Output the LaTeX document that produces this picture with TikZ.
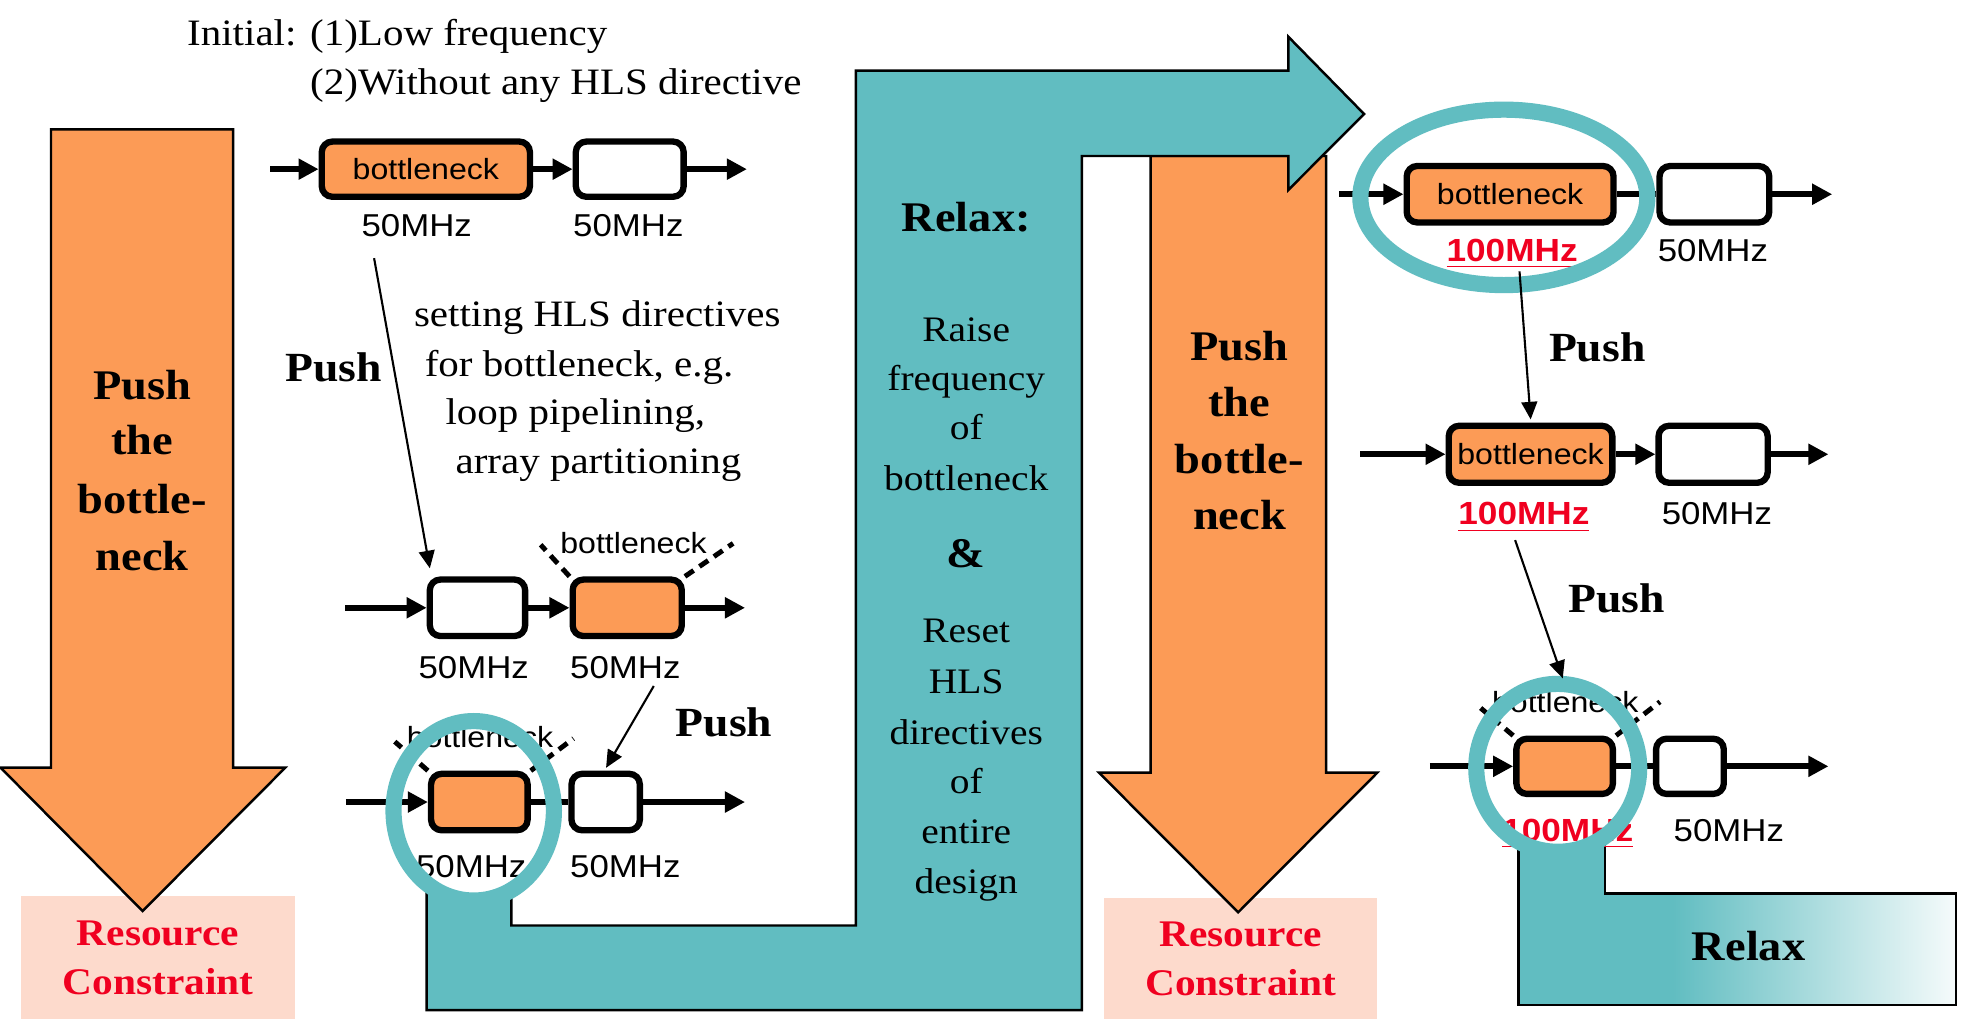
\documentclass[tikz,border=0pt]{standalone}
\usepackage{fontspec}
\setmainfont{Liberation Serif}[FakeStretch=1.1]
\newfontfamily\sansf{Liberation Sans}[FakeStretch=1.1]
\usetikzlibrary{arrows.meta}
\definecolor{tealc}{RGB}{97,189,193}
\definecolor{orangec}{RGB}{252,155,86}
\definecolor{pinkc}{RGB}{253,218,204}
\definecolor{redc}{RGB}{240,0,32}
\newcommand\pxu{0.35663pt}
\begin{document}
\begin{tikzpicture}[x=0.012532cm, y=-0.012532cm,
  bigshape/.style={draw=black, line width=0.7pt, line join=miter},
  stagebox/.style 2 args={draw=black, line width=1.8pt, rounded corners=3pt, inner sep=0pt,
     minimum width=#1*\pxu, minimum height=#2*\pxu},
  resbox/.style 2 args={fill=pinkc, minimum width=#1*\pxu, minimum height=#2*\pxu, inner sep=0pt,
     align=center, text=redc, font=\bfseries\fontsize{10.7}{13.9}\selectfont},
  flow/.style={line width=1.7pt, -{Triangle[length=5.7pt,width=5.7pt]}},
  flowline/.style={line width=1.7pt},
  push/.style={line width=0.6pt, -{Triangle[length=5pt,width=4.5pt]}},
  dashline/.style={line width=1.4pt, dash pattern=on 3pt off 2pt},
  ring/.style={draw=tealc, line width=4.6pt},
  mhz/.style={font=\sansf\fontsize{9}{10}\selectfont, inner sep=0pt, text depth=0pt},
  bn/.style={font=\sansf\fontsize{8.3}{10}\selectfont, inner sep=0pt, text depth=0pt},
  redmhz/.style={font=\sansf\bfseries\fontsize{9.1}{10}\selectfont, text=redc, inner sep=0pt, text depth=0pt},
  txt/.style={font=\fontsize{10.6}{12}\selectfont, anchor=base west, inner sep=0pt},
  tealtxt/.style={font=\fontsize{10.2}{12}\selectfont, anchor=base, inner sep=0pt},
  bigbold/.style={font=\bfseries\fontsize{12}{14}\selectfont, anchor=base, inner sep=0pt},
  pushlbl/.style={font=\bfseries\fontsize{11.8}{14}\selectfont, anchor=base, inner sep=0pt}
]
\fill[white] (0,0) rectangle (1568,823.5);
\useasboundingbox (0,0) rectangle (1568,823.5);

% ---------- resource boxes and orange arrows ----------
\node[resbox={219}{98.5}] (rc1) at (126.1,764) {Resource\\Constraint};
\node[resbox={218}{96.3}] (rc2) at (990,765) {Resource\\Constraint};

\path[bigshape, fill=orangec] (40.7,103.2) -- (40.7,612.6) -- (0.5,612.6) -- (113.8,727)
  -- (227.6,612.6) -- (186,612.6) -- (186,103.2) -- cycle;
\path[bigshape, fill=orangec] (918.2,124.5) -- (918.2,616.6) -- (877,616.6) -- (988,728)
  -- (1099,616.6) -- (1058.2,616.6) -- (1058.2,124.5) -- cycle;

% ---------- teal relax connector ----------
\path[bigshape, fill=tealc] (340.5,700) -- (340.5,806) -- (863.2,806) -- (863.2,124.5)
  -- (1028,124.5) -- (1028,151.6) -- (1088.5,91) -- (1028,29.3) -- (1028,56.4)
  -- (683,56.4) -- (683,738.5) -- (408,738.5) -- (408,700);

% ---------- bottom-right relax box ----------
\fill[tealc] (1211.5,670) -- (1211.5,802) -- (1561,802) -- (1561,713) -- (1280.7,713) -- (1280.7,670) -- cycle;
\shade[left color=tealc, right color=white!94!tealc] (1335,713) rectangle (1561,802);
\draw[line width=0.7pt] (1211.5,670) -- (1211.5,802) -- (1561,802) -- (1561,713) -- (1280.7,713) -- (1280.7,670);
\node[pushlbl, font=\bfseries\fontsize{12}{14}\selectfont] (relaxlbl) at (1395.3,766.5) {Relax};

% ---------- white interiors of the rings ----------
\fill[white] (378,647) ellipse [x radius=64, y radius=71.6];
\fill[white] (1200,157.5) ellipse [x radius=114.5, y radius=70];
\fill[white] (1243,612.7) ellipse [x radius=65, y radius=67];

% ---------- left pipelines ----------
% row 1
\node[stagebox={166}{44}, fill=orangec, font=\sansf\fontsize{8.3}{10}\selectfont] (b1a) at (339.8,135) {bottleneck};
\node[stagebox={86}{44}, fill=white] (b1b) at (502.5,135) {};
\coordinate (in1) at (215.5,135);
\coordinate (out1) at (596,135);
\draw[flow] (in1) -- (b1a);
\draw[flow] (b1a) -- (b1b);
\draw[flow] (b1b) -- (out1);
\node[mhz] (f1a) at (332.5,179.6) {50MHz};
\node[mhz] (f1b) at (501.4,179.6) {50MHz};

% row 2
\node[stagebox={76}{45}, fill=white] (b2a) at (381,485) {};
\node[stagebox={87}{45}, fill=orangec] (b2b) at (500.5,485) {};
\coordinate (in2) at (275.3,485);
\coordinate (out2) at (594.5,485);
\draw[flow] (in2) -- (b2a);
\draw[flow] (b2a) -- (b2b);
\draw[flow] (b2b) -- (out2);
\node[mhz] (f2a) at (378,532.6) {50MHz};
\node[mhz] (f2b) at (499,532.6) {50MHz};
\node[bn] (bn2) at (505.5,433.6) {bottleneck};
\coordinate (d2l) at (431.4,434.7);
\coordinate (d2r) at (585,433.6);
\draw[dashline] (b2b.north west) -- (d2l);
\draw[dashline] (b2b.north east) -- (d2r);

% row 3
\node[stagebox={77}{45}, fill=orangec] (b3a) at (382.5,640) {};
\node[stagebox={54.5}{45}, fill=white] (b3b) at (483.3,640) {};
\coordinate (in3) at (276,640);
\coordinate (out3) at (594.5,640);
\draw[flow] (in3) -- (b3a);
\draw[flowline] (b3a) -- (b3b);
\draw[flow] (b3b) -- (out3);
\node[mhz] (f3a) at (376,691.6) {50MHz};
\node[mhz] (f3b) at (499,691.6) {50MHz};
\node[bn] (bn3) at (383,588) {bottleneck};
\coordinate (d3l) at (315,591.8);
\coordinate (d3r) at (457.6,589.3);
\draw[dashline] (b3a.north west) -- (d3l);
\draw[dashline] (b3a.north east) -- (d3r);

% ---------- right pipelines ----------
% row R1
\node[stagebox={165}{45}, fill=orangec, font=\sansf\fontsize{8.3}{10}\selectfont] (r1a) at (1205,155) {bottleneck};
\node[stagebox={87.5}{45}, fill=white] (r1b) at (1368,155) {};
\coordinate (rin1) at (1068.6,155);
\coordinate (rout1) at (1462,155);
\draw[flow] (rin1) -- (r1a);
\draw[flowline] (r1a) -- (r1b);
\draw[flow] (r1b) -- (rout1);
\node[redmhz] (g1a) at (1206.6,199.6) {\underline{100MHz}};
\node[mhz] (g1b) at (1366.8,199.6) {50MHz};

% row R2
\node[stagebox={130.5}{45.5}, fill=orangec, font=\sansf\fontsize{8.3}{10}\selectfont] (r2a) at (1221.3,362.5) {bottleneck};
\node[stagebox={87}{45.5}, fill=white] (r2b) at (1367,362.5) {};
\coordinate (rin2) at (1085.3,362.5);
\coordinate (rout2) at (1459,362.5);
\draw[flow] (rin2) -- (r2a);
\draw[flow] (r2a) -- (r2b);
\draw[flow] (r2b) -- (rout2);
\node[redmhz] (g2a) at (1216,410) {\underline{100MHz}};
\node[mhz] (g2b) at (1370,410) {50MHz};

% row R3
\node[stagebox={77}{44}, fill=orangec] (r3a) at (1248.5,611.5) {};
\node[stagebox={54}{44}, fill=white] (r3b) at (1348.5,611.5) {};
\coordinate (rin3) at (1141,611.5);
\coordinate (rout3) at (1459,611.5);
\draw[flow] (rin3) -- (r3a);
\draw[flowline] (r3a) -- (r3b);
\draw[flow] (r3b) -- (rout3);
\node[redmhz] (g3a) at (1251,662.5) {\underline{100MHz}};
\node[mhz] (g3b) at (1379.5,662.5) {50MHz};
\node[bn] (bn4) at (1249,560) {bottleneck};
\coordinate (e3l) at (1181.5,565);
\coordinate (e3r) at (1324.6,560);
\draw[dashline] (r3a.north west) -- (e3l);
\draw[dashline] (r3a.north east) -- (e3r);

% ---------- rings ----------
\draw[ring] (378,647) ellipse [x radius=64, y radius=71.6];
\draw[ring] (1200,157.5) ellipse [x radius=114.5, y radius=70];
\draw[ring] (1243,612.7) ellipse [x radius=65, y radius=67];

% ---------- push connectors ----------
\coordinate (p1s) at (298.5,206);   \coordinate (p1e) at (343,453.5);
\coordinate (p2s) at (521.7,547.4); \coordinate (p2e) at (483.6,612.7);
\coordinate (p3s) at (1212.5,216.6); \coordinate (p3e) at (1221.4,334.7);
\coordinate (p4s) at (1209,431);    \coordinate (p4e) at (1247,541.3);
\draw[push] (p1s) -- (p1e);
\draw[push] (p2s) -- (p2e);
\draw[push] (p3s) -- (p3e);
\draw[push] (p4s) -- (p4e);
\node[pushlbl] (pl1) at (266,304.6) {Push};
\node[pushlbl] (pl2) at (577.7,588) {Push};
\node[pushlbl] (pl3) at (1274.5,288.5) {Push};
\node[pushlbl] (pl4) at (1290,489) {Push};

% ---------- texts ----------
\node[txt] (init1) at (148.8,36.4) {Initial: (1)Low frequency};
\node[txt] (init2) at (247,75.8) {(2)Without any HLS directive};
\node[txt] (set1) at (329.8,260.7) {setting HLS directives};
\node[txt] (set2) at (338.4,300.6) {for bottleneck, e.g.};
\node[txt] (set3) at (355,339) {loop pipelining,};
\node[txt] (set4) at (363,377.7) {array partitioning};

\foreach \yy/\lbl [count=\i] in {319/Push, 363/the, 409.6/bottle-, 455/neck}
  \node[bigbold] (la\i) at (113.4,\yy) {\lbl};
\foreach \yy/\lbl [count=\i] in {287.7/Push, 332.6/the, 377.5/bottle-, 422.4/neck}
  \node[bigbold] (ma\i) at (989,\yy) {\lbl};

\node[bigbold] (relaxhead) at (771,184.8) {Relax:};
\foreach \yy/\lbl [count=\i] in {272.9/Raise, 311.4/frequency, 351/of, 391.8/bottleneck}
  \node[tealtxt] (ta\i) at (771,\yy) {\lbl};
\node[bigbold] (amp) at (771,453) {\&};
\foreach \yy/\lbl [count=\i] in {513/Reset, 553/HLS, 594/directives, 633.5/of, 673/entire, 712.7/design}
  \node[tealtxt] (tb\i) at (771,\yy) {\lbl};
\end{tikzpicture}
\end{document}
